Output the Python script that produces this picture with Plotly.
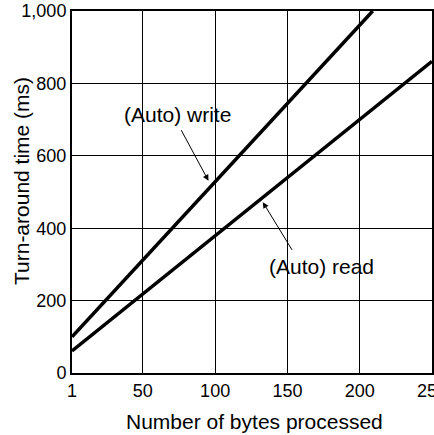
"""Turn-around time vs number of bytes processed (Auto read / write)."""

import plotly.graph_objects as go

# Data
bytes_write = [1, 209]
time_write = [100, 1000]
bytes_read = [1, 250]
time_read = [61, 861]

x_ticks = [1, 50, 100, 150, 200, 250]
y_ticks = [0, 200, 400, 600, 800, 1000]
y_tick_text = ["0", "200", "400", "600", "800", "1,000"]

LABEL_FONT = dict(family="Liberation Sans, Arial, sans-serif", size=21, color="black")
TICK_FONT = dict(family="Liberation Sans, Arial, sans-serif", size=18, color="black")

fig = go.Figure()
fig.add_trace(go.Scatter(x=bytes_write, y=time_write, mode="lines",
                         line=dict(color="black", width=3.5), name="(Auto) write"))
fig.add_trace(go.Scatter(x=bytes_read, y=time_read, mode="lines",
                         line=dict(color="black", width=3.5), name="(Auto) read"))

# text labels
fig.add_annotation(x=73.9, y=714, text="(Auto) write", showarrow=False, font=LABEL_FONT)
fig.add_annotation(x=173.9, y=294, text="(Auto) read", showarrow=False, font=LABEL_FONT)

# leader arrows
for tip, tail in [((95.4, 531), (76, 675)), ((133, 472), (153.8, 336))]:
    fig.add_annotation(x=tip[0], y=tip[1], ax=tail[0], ay=tail[1], axref="x", ayref="y",
                       text="", showarrow=True, arrowhead=2, arrowsize=1.2,
                       arrowwidth=1, arrowcolor="black")

# axis titles placed as annotations (positions)
fig.add_annotation(x=-0.142, y=0.53, xref="paper", yref="paper", text="Turn-around time (ms)",
                   textangle=-90, showarrow=False, font=LABEL_FONT,
                   xanchor="center", yanchor="middle")
fig.add_annotation(x=0.506, y=-0.133, xref="paper", yref="paper", text="Number of bytes processed",
                   showarrow=False, font=LABEL_FONT, xanchor="center", yanchor="middle")

fig.update_xaxes(
    range=[1, 250], tickvals=x_ticks, ticks="", tickfont=TICK_FONT, automargin=False,
    ticklabeloverflow="allow",
    showgrid=True, gridcolor="black", gridwidth=1,
    showline=True, linecolor="black", linewidth=2, mirror=True, zeroline=False,
)
fig.update_yaxes(
    range=[0, 1000], tickvals=y_ticks, ticktext=y_tick_text, ticks="", tickfont=TICK_FONT,
    automargin=False, ticklabeloverflow="allow",
    showgrid=True, gridcolor="black", gridwidth=1,
    showline=True, linecolor="black", linewidth=2, mirror=True, zeroline=False,
)
fig.update_layout(
    width=434, height=435,
    margin=dict(l=72, r=2, t=11, b=62),
    plot_bgcolor="white", paper_bgcolor="white",
    showlegend=False,
)
fig.write_html("out.html", config={"displayModeBar": False},
               post_script="document.body.style.margin='0';")
